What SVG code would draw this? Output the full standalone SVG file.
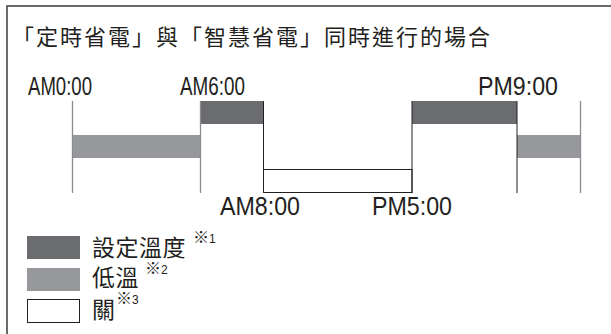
<svg xmlns="http://www.w3.org/2000/svg" width="611" height="334" viewBox="0 0 611 334">
  <style>
    .cjk { font-family: "Noto Sans CJK TC", "Noto Sans CJK SC", sans-serif; fill: #231f20; }
    .lat { font-family: "Liberation Sans", Arial, sans-serif; fill: #231f20; font-size: 25px; }
    .sup { font-family: "Noto Sans CJK TC", "Liberation Sans", sans-serif; fill: #231f20; font-size: 16px; }
    .sup .n { font-family: "Liberation Sans", Arial, sans-serif; font-size: 12px; }
    .dark { fill: #6b6c70; }
    .mid { fill: #97989c; }
    .off { fill: #ffffff; stroke: #231f20; stroke-width: 1; }
    .vl { stroke: #231f20; stroke-width: 1; fill: none; }
    .vlg { stroke: #8c8c8e; stroke-width: 1.3; fill: none; }
  </style>
  <rect width="611" height="334" fill="#ffffff"/>
  <path d="M7,334 V6 H611" fill="none" stroke="#3a3a3a" stroke-width="1.5"/>

  <g id="title">
    <text class="cjk" x="12" y="45" font-size="22" letter-spacing="2">「定時省電」與「智慧省電」同時進行的場合</text>
  </g>

  <g id="bars">
    <rect id="low-1" class="mid" x="72" y="135" width="128" height="23"/>
    <rect id="set-1" class="dark" x="200" y="101" width="63" height="23"/>
    <rect id="off-1" class="off" x="263.5" y="169.5" width="148.5" height="23"/>
    <rect id="set-2" class="dark" x="412" y="101" width="105" height="23"/>
    <rect id="low-2" class="mid" x="517" y="135" width="64" height="23"/>
  </g>

  <g id="connectors">
    <line class="vlg" x1="72.5" y1="101" x2="72.5" y2="193"/>
    <line class="vlg" x1="200.5" y1="101" x2="200.5" y2="193"/>
    <line class="vl" x1="263.5" y1="101" x2="263.5" y2="193"/>
    <line class="vl" x1="412" y1="101" x2="412" y2="193"/>
    <line class="vl" x1="517" y1="101" x2="517" y2="193"/>
    <line class="vlg" x1="580.5" y1="101" x2="580.5" y2="193" stroke-width="2"/>
  </g>

  <g id="time-labels">
    <text class="lat" x="28" y="95" textLength="64" lengthAdjust="spacingAndGlyphs">AM0:00</text>
    <text class="lat" x="180" y="95" textLength="65" lengthAdjust="spacingAndGlyphs">AM6:00</text>
    <text class="lat" x="478" y="95" textLength="80" lengthAdjust="spacingAndGlyphs">PM9:00</text>
    <text class="lat" x="220" y="215" textLength="80" lengthAdjust="spacingAndGlyphs">AM8:00</text>
    <text class="lat" x="372" y="215" textLength="80" lengthAdjust="spacingAndGlyphs">PM5:00</text>
  </g>

  <g id="legend-set">
    <rect class="dark" x="27" y="236" width="53" height="23"/>
    <text class="cjk" x="92" y="256" font-size="23" letter-spacing="0.5">設定溫度</text>
    <text class="sup" x="193" y="243">※<tspan class="n">1</tspan></text>
  </g>
  <g id="legend-low">
    <rect class="mid" x="27" y="268" width="53" height="23"/>
    <text class="cjk" x="92" y="286" font-size="23" letter-spacing="0.5">低溫</text>
    <text class="sup" x="145" y="274">※<tspan class="n">2</tspan></text>
  </g>
  <g id="legend-off">
    <rect class="off" x="27.5" y="299.5" width="52" height="23"/>
    <text class="cjk" x="92" y="318" font-size="23" letter-spacing="0.5">關</text>
    <text class="sup" x="116" y="304">※<tspan class="n">3</tspan></text>
  </g>
</svg>
